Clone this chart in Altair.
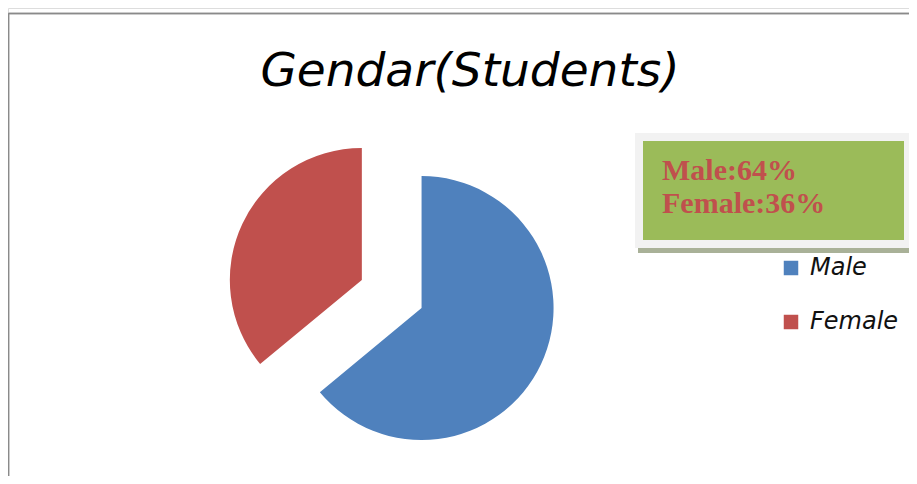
import math
import altair as alt
import pandas as pd

# ---- data ----
categories = ["Male", "Female"]
values = [64, 36]
colors = ["#4F81BD", "#C0504D"]
order = [0, 1]
title_text = ["Gendar(Students)"]

df = pd.DataFrame({"category": categories, "value": values, "order": order})
total = sum(values)

W, H = 901, 468
CX, CY = 383.7, 286.0   # pie centre (layout)
EXPLODE = 33            # explode distance in px
R = 132

base = alt.Chart(df)

# frame lines
frame_top = base.mark_rule(color="#8a8a8a", strokeWidth=1.5).encode(
    x=alt.value(0.5), x2=alt.value(W), y=alt.value(5.5)
)
frame_left = base.mark_rule(color="#8a8a8a", strokeWidth=1.5).encode(
    x=alt.value(0.5), y=alt.value(5.5), y2=alt.value(H)
)

# chart title
title = alt.Chart(pd.DataFrame({"t": title_text})).mark_text(
    font="DejaVu Sans", fontStyle="italic", fontSize=47, fontWeight="normal",
    color="#000000", align="center", baseline="alphabetic",
).encode(x=alt.value(462), y=alt.value(78), text="t:N")

pie = base.transform_window(
    cum="sum(value)", sort=[alt.SortField("order")], frame=[None, 0]
).transform_calculate(
    start="datum.cum - datum.value",
    end="datum.cum",
).transform_calculate(
    mid=f"(datum.start + datum.value/2) / {total} * 2 * PI"
).transform_calculate(
    ex="sin(datum.mid)", ey="-cos(datum.mid)"
).mark_arc(outerRadius=R, stroke=None).encode(
    theta=alt.Theta("start:Q", scale=alt.Scale(domain=[0, total], range=[0, 2 * math.pi]), stack=None),
    theta2="end:Q",
    x=alt.X("ex:Q", scale=alt.Scale(domain=[-1, 1], range=[CX - EXPLODE, CX + EXPLODE]), axis=None),
    y=alt.Y("ey:Q", scale=alt.Scale(domain=[-1, 1], range=[CY - EXPLODE, CY + EXPLODE]), axis=None),
    color=alt.Color(
        "category:N",
        scale=alt.Scale(domain=categories, range=colors),
        legend=alt.Legend(
            title=None, orient="none", legendX=771, legendY=248,
            symbolType="square", symbolSize=210, symbolStrokeWidth=0,
            labelFont="DejaVu Sans", labelFontStyle="italic", labelFontSize=24,
            labelColor="#111111", rowPadding=30, labelOffset=7, padding=0,
        ),
    ),
)

# annotation box
shadow = base.mark_rect(color="#A9B198").encode(
    x=alt.value(630), x2=alt.value(906), y=alt.value(130), y2=alt.value(245)
)
border = base.mark_rect(color="#F2F2F2").encode(
    x=alt.value(627), x2=alt.value(903), y=alt.value(125), y2=alt.value(240)
)
green = base.mark_rect(color="#9BBB59").encode(
    x=alt.value(635), x2=alt.value(896), y=alt.value(133), y2=alt.value(232)
)
box_text = base.transform_calculate(
    label="datum.category + ':' + datum.value + '%'"
).mark_text(
    align="left", baseline="alphabetic", font="Liberation Serif",
    fontWeight="bold", fontSize=30, color="#C0504D",
).encode(
    x=alt.value(654),
    y=alt.Y("order:Q", scale=alt.Scale(domain=[0, 1], range=[172, 205]), axis=None),
    text="label:N",
)

chart = alt.layer(frame_top, frame_left, title, pie, shadow, border, green, box_text).resolve_scale(
    x="independent", y="independent"
).properties(
    width=W, height=H,
    autosize=alt.AutoSizeParams(type="none"),
    padding=0,
).configure_view(stroke=None).configure(background="white")

chart.save("out.html", embed_options={"renderer": "svg", "actions": False})
